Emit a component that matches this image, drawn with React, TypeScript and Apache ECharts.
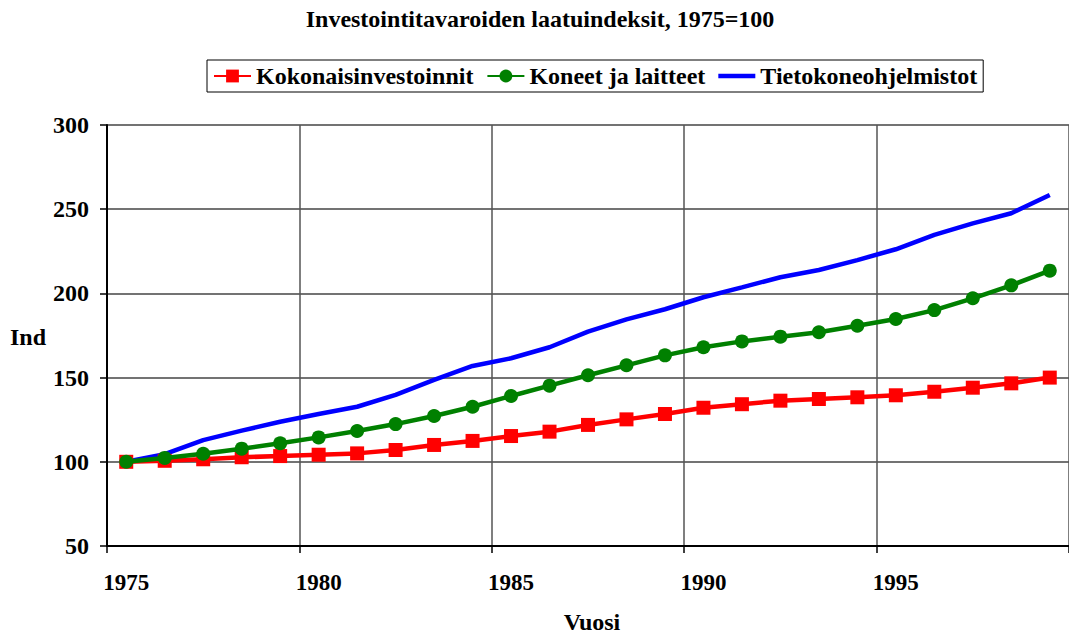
import React, { useEffect, useRef } from "react";
import * as echarts from "echarts";

const years = [
  "1975", "1976", "1977", "1978", "1979", "1980", "1981", "1982", "1983", "1984",
  "1985", "1986", "1987", "1988", "1989", "1990", "1991", "1992", "1993", "1994",
  "1995", "1996", "1997", "1998", "1999",
];
const kokonais = [
  100, 100.6, 101.5, 102.7, 103.4, 104.2, 105, 107, 110, 112.4,
  115.3, 117.9, 121.9, 125.2, 128.4, 132.1, 134.2, 136.3, 137.3, 138.3,
  139.5, 141.6, 144, 146.6, 150,
];
const koneet = [
  100, 102.3, 104.8, 107.8, 111, 114.5, 118.3, 122.4, 127.2, 132.7,
  139.1, 145.2, 151.4, 157.3, 163.2, 168, 171.5, 174.3, 176.9, 180.8,
  184.8, 190.1, 197.1, 204.8, 213.5,
];
const tietokone = [
  100, 104.5, 112.9, 118.5, 123.8, 128.4, 132.7, 139.7, 148.6, 156.9,
  161.5, 168, 177.3, 184.6, 190.6, 197.7, 203.6, 209.6, 213.9, 219.8,
  226.2, 234.7, 241.6, 247.6, 258.4,
];
const seriesNames = ["Kokonaisinvestoinnit", "Koneet ja laitteet", "Tietokoneohjelmistot"];
const titleText = "Investointitavaroiden laatuindeksit, 1975=100";

const FONT = "Liberation Serif";

const txt = (text: string, x: number, y: number) => ({
  type: "text",
  x,
  y,
  style: {
    text,
    fontFamily: FONT,
    fontWeight: "bold",
    fontSize: 24,
    fill: "#000",
    align: "center",
    verticalAlign: "middle",
  },
});

export default function App() {
  const ref = useRef<HTMLDivElement>(null);
  useEffect(() => {
    if (!ref.current) return;
    const chart = echarts.init(ref.current, null, { renderer: "svg" });
    chart.setOption({
      animation: false,
      backgroundColor: "#ffffff",
      textStyle: { fontFamily: FONT },
      graphic: [txt(titleText, 540, 19), txt("Ind", 28, 337), txt("Vuosi", 592, 622)],
      legend: {
        left: 207,
        top: 60,
        padding: [4, 6, 4, 6],
        borderColor: "#000",
        borderWidth: 1,
        itemWidth: 37,
        itemHeight: 16,
        itemGap: 13,
        textStyle: { fontFamily: FONT, fontWeight: "bold", fontSize: 24, color: "#000" },
        data: [
          { name: seriesNames[0] },
          { name: seriesNames[1] },
          { name: seriesNames[2], icon: "path://M0,0 L37,0 L37,4.5 L0,4.5 Z" },
        ],
      },
      grid: { left: 107, top: 125, width: 970, height: 421, containLabel: false },
      xAxis: {
        type: "category",
        data: years,
        boundaryGap: true,
        axisLine: { show: true, lineStyle: { color: "#000", width: 2 } },
        axisTick: { show: true, interval: 4, length: 7, lineStyle: { color: "#000", width: 1.5 } },
        axisLabel: {
          interval: 4,
          margin: 25,
          fontFamily: FONT,
          fontWeight: "bold",
          fontSize: 23,
          color: "#000",
        },
        splitLine: { show: true, interval: 4, lineStyle: { color: "#555", width: 1.5 } },
      },
      yAxis: {
        type: "value",
        min: 50,
        max: 300,
        interval: 50,
        axisLine: { show: true, lineStyle: { color: "#000", width: 2 } },
        axisTick: { show: true, length: 7, lineStyle: { color: "#000", width: 1.5 } },
        axisLabel: {
          margin: 18,
          fontFamily: FONT,
          fontWeight: "bold",
          fontSize: 24,
          color: "#000",
        },
        splitLine: { show: true, lineStyle: { color: "#444", width: 1.5 } },
      },
      series: [
        {
          name: seriesNames[2],
          type: "line",
          data: tietokone,
          symbol: "none",
          z: 2,
          lineStyle: { color: "#0000ff", width: 4.5 },
          itemStyle: { color: "#0000ff" },
        },
        {
          name: seriesNames[0],
          type: "line",
          data: kokonais,
          symbol: "rect",
          symbolSize: 14,
          z: 3,
          lineStyle: { color: "#ff0000", width: 4.5 },
          itemStyle: { color: "#ff0000" },
        },
        {
          name: seriesNames[1],
          type: "line",
          data: koneet,
          symbol: "circle",
          symbolSize: 14,
          z: 4,
          lineStyle: { color: "#008000", width: 4.5 },
          itemStyle: { color: "#008000" },
        },
      ],
    });
    return () => chart.dispose();
  }, []);
  return (
    <div
      ref={ref}
      style={{ position: "absolute", left: 0, top: 0, width: 1069, height: 634 }}
    />
  );
}
